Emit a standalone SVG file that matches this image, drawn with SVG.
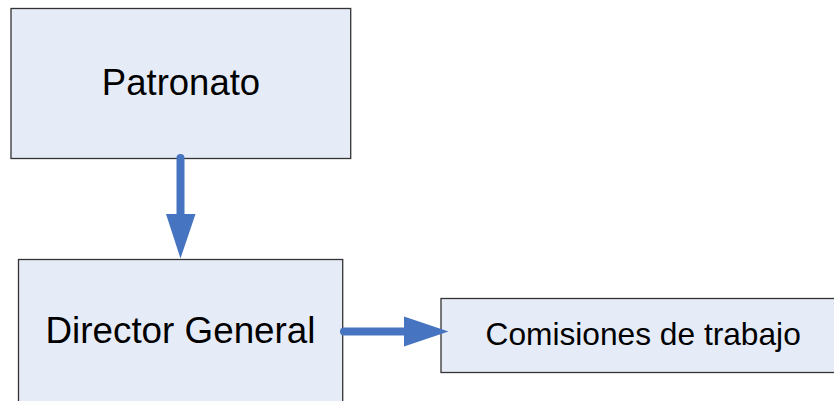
<svg xmlns="http://www.w3.org/2000/svg" width="834" height="401" viewBox="0 0 834 401">
  <style>
    .box { fill: #E6ECF7; stroke: #333333; stroke-width: 1.3; }
    .label { font-family: "Liberation Sans", Arial, sans-serif; fill: #000000; }
    .link { fill: none; stroke: #4674C1; stroke-width: 8; stroke-linecap: round; }
    .head { fill: #4674C1; }
  </style>
  <rect width="834" height="401" fill="#FFFFFF"/>

  <g id="patronato">
    <rect class="box" x="11" y="8.5" width="339.7" height="150"/>
    <text class="label" x="181" y="95" font-size="36.5" text-anchor="middle">Patronato</text>
  </g>

  <g id="director-general">
    <rect class="box" x="18.5" y="259.5" width="324.2" height="150"/>
    <text class="label" x="180.5" y="342.5" font-size="36.8" text-anchor="middle">Director General</text>
  </g>

  <g id="comisiones-de-trabajo">
    <rect class="box" x="441" y="298.5" width="400" height="74"/>
    <text class="label" x="485.5" y="345" font-size="31.7">Comisiones de trabajo</text>
  </g>

  <g id="connectors">
    <line class="link" x1="180.5" y1="158" x2="180.5" y2="216"/>
    <polygon class="head" points="166,214 195.5,214 180.5,258.5"/>
    <line class="link" x1="344" y1="331.5" x2="406" y2="331.5"/>
    <polygon class="head" points="404,316.5 404,346.5 448.5,331.5"/>
  </g>
</svg>
